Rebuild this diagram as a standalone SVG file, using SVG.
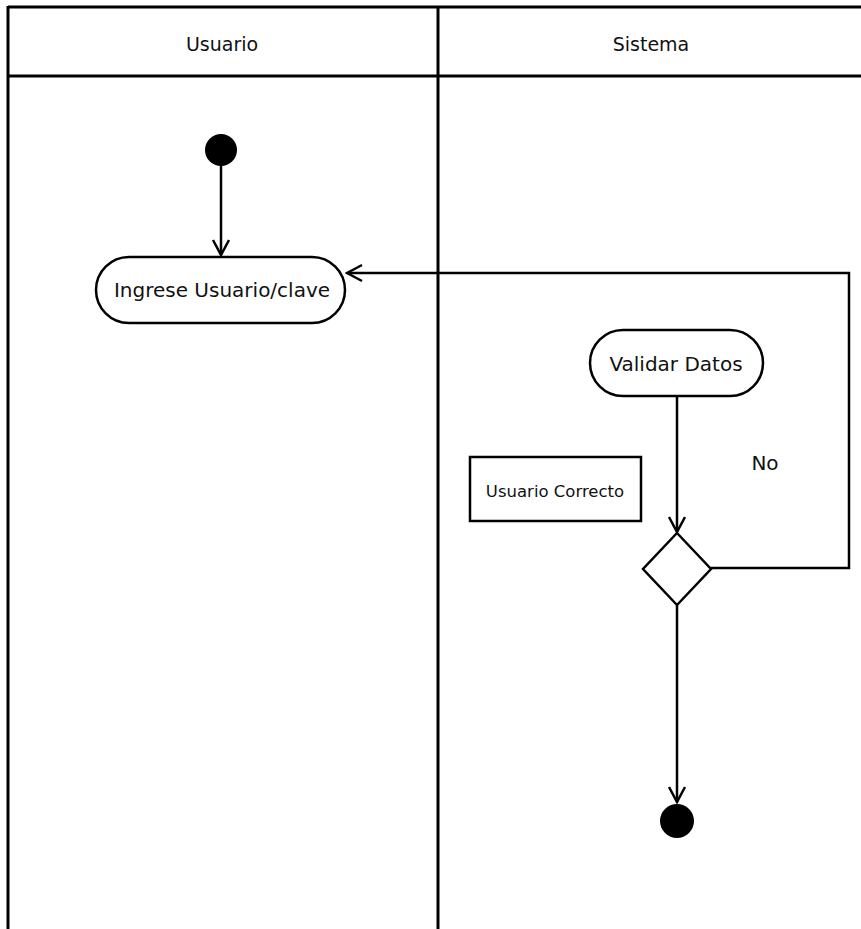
<svg xmlns="http://www.w3.org/2000/svg" width="861" height="929" viewBox="0 0 861 929">
  <style>
    .lane { fill: none; stroke: #000; stroke-width: 3; }
    .node { fill: #fff; stroke: #000; stroke-width: 2.5; }
    .edge { fill: none; stroke: #000; stroke-width: 2.5; }
    .lbl { font-family: "DejaVu Sans", Verdana, sans-serif; font-size: 20px; fill: #111; text-anchor: middle; }
    .hdr { font-family: "DejaVu Sans", Verdana, sans-serif; font-size: 19px; fill: #111; text-anchor: middle; }
    .small { font-family: "DejaVu Sans", Verdana, sans-serif; font-size: 16.5px; fill: #111; text-anchor: middle; }
  </style>
  <defs>
    <marker id="arrow" viewBox="0 0 20 20" refX="18" refY="10" markerWidth="20" markerHeight="20" markerUnits="userSpaceOnUse" orient="auto">
      <path d="M3,2 L18,10 L3,18" fill="none" stroke="#000" stroke-width="2.5"/>
    </marker>
  </defs>
  <rect width="861" height="929" fill="#fff"/>

  <!-- swimlanes -->
  <g id="lanes">
    <line class="lane" x1="8" y1="7" x2="861" y2="7"/>
    <line class="lane" x1="8" y1="76" x2="861" y2="76"/>
    <line class="lane" x1="8" y1="6" x2="8" y2="929"/>
    <line class="lane" x1="438" y1="6" x2="438" y2="929"/>
    <text class="hdr" x="222" y="51">Usuario</text>
    <text class="hdr" x="651" y="51">Sistema</text>
  </g>

  <!-- connectors -->
  <g id="connectors">
    <line class="edge" x1="221" y1="164" x2="221" y2="255" marker-end="url(#arrow)"/>
    <polyline class="edge" points="711,568 849,568 849,273 347,273" marker-end="url(#arrow)"/>
    <line class="edge" x1="677" y1="396" x2="677" y2="532" marker-end="url(#arrow)"/>
    <line class="edge" x1="677" y1="605" x2="677" y2="802" marker-end="url(#arrow)"/>
    <text class="lbl" x="765" y="470">No</text>
  </g>

  <g id="start">
    <circle cx="221" cy="150" r="16" fill="#000"/>
  </g>

  <g id="ingrese">
    <rect class="node" x="96" y="257" width="249" height="66" rx="33"/>
    <text class="lbl" x="222" y="297">Ingrese Usuario/clave</text>
  </g>

  <g id="validar">
    <rect class="node" x="590" y="330" width="173" height="66" rx="33"/>
    <text class="lbl" x="676" y="371">Validar Datos</text>
  </g>

  <g id="correcto">
    <rect class="node" x="470" y="457" width="171" height="64"/>
    <text class="small" x="555" y="497">Usuario Correcto</text>
  </g>

  <g id="decision">
    <polygon class="node" points="677,533 711,569 677,605 643,569"/>
  </g>

  <g id="end">
    <circle cx="677" cy="821" r="17" fill="#000"/>
  </g>
</svg>
